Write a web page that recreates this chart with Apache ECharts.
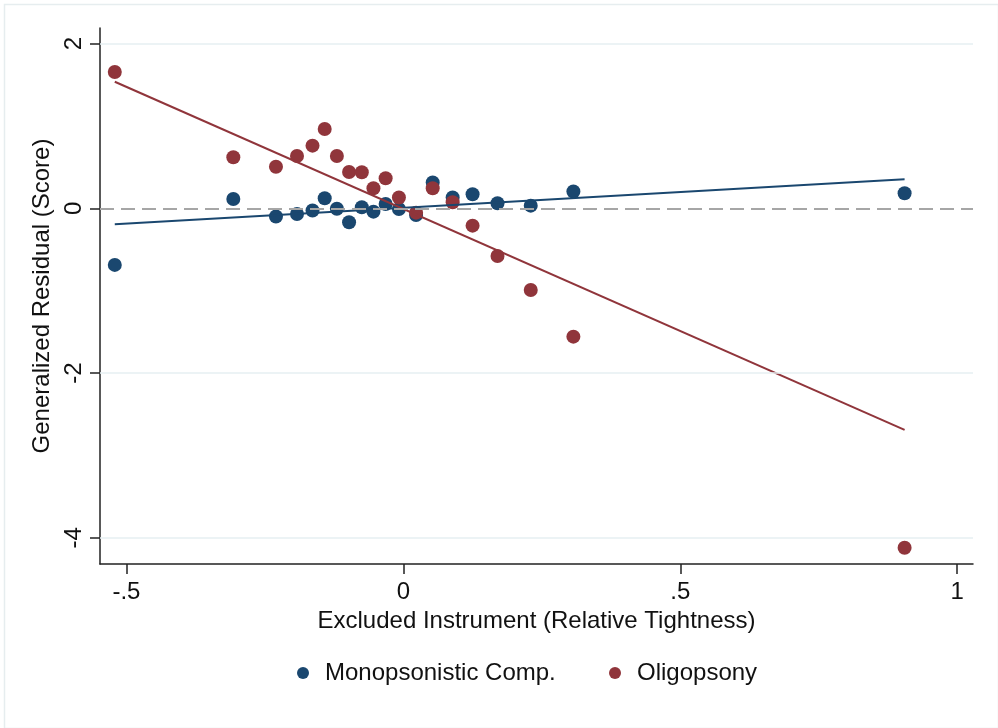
<!DOCTYPE html>
<html>
<head>
<meta charset="utf-8">
<script src="https://cdn.jsdelivr.net/npm/echarts@6/dist/echarts.min.js"></script>
<style>
html,body{margin:0;padding:0;background:#fff;}
#chart{width:998px;height:728px;}
</style>
</head>
<body>
<div id="chart"></div>
<script>
// Excluded instrument (x) values, shared by both groups
var xValues = [-0.521, -0.307, -0.230, -0.192, -0.164, -0.142, -0.120, -0.098, -0.075, -0.054,
               -0.032, -0.008, 0.023, 0.053, 0.089, 0.125, 0.170, 0.230, 0.307, 0.905];
// Generalized residuals
var monoY = [-0.687, 0.113, -0.100, -0.069, -0.027, 0.121, -0.005, -0.170, 0.012, -0.041,
             0.052, -0.008, -0.081, 0.313, 0.131, 0.170, 0.061, 0.032, 0.204, 0.182];
var oligoY = [1.654, 0.619, 0.505, 0.635, 0.760, 0.962, 0.635, 0.441, 0.437, 0.243,
              0.364, 0.131, -0.053, 0.243, 0.073, -0.211, -0.579, -0.991, -1.558, -4.119];
// Linear fit endpoints
var monoFitX = [-0.521, 0.905];
var monoFitY = [-0.194, 0.352];
var oligoFitX = [-0.521, 0.905];
var oligoFitY = [1.536, -2.690];
// Ticks
var xTicks = [-0.5, 0, 0.5, 1];
var xTickLabels = ['-.5', '0', '.5', '1'];
var yTicks = [-4, -2, 0, 2];
var yTickLabels = ['-4', '-2', '0', '2'];
var gridLineValues = [-4, -2, 2];
var seriesNames = ['Monopsonistic Comp.', 'Oligopsony'];

var BLUE = '#1a476f', RED = '#90353b';
var FONT = 'Liberation Sans, Arial, Helvetica, sans-serif';

function pairs(xs, ys) { return xs.map(function (x, i) { return [x, ys[i]]; }); }

var chart = echarts.init(document.getElementById('chart'), null, {renderer: 'canvas'});
chart.setOption({
  backgroundColor: '#ffffff',
  animation: false,
  textStyle: {fontFamily: FONT},
  graphic: [{
    type: 'rect', left: 2, top: 2, silent: true,
    shape: {width: 994, height: 724},
    style: {fill: 'none', stroke: '#e6edef', lineWidth: 1.5}
  }],
  grid: {left: 100, right: 25, top: 28, bottom: 164, containLabel: false},
  legend: [{
    data: [seriesNames[0]], left: 292, top: 656, itemWidth: 12, itemHeight: 12,
    icon: 'circle', textStyle: {fontSize: 24, color: '#111', fontFamily: FONT, padding: [0, 0, 0, 11]}
  }, {
    data: [seriesNames[1]], left: 604, top: 656, itemWidth: 12, itemHeight: 12,
    icon: 'circle', textStyle: {fontSize: 24, color: '#111', fontFamily: FONT, padding: [0, 0, 0, 11]}
  }],
  xAxis: {
    type: 'value', min: -0.5477, max: 1.0285,
    name: 'Excluded Instrument (Relative Tightness)', nameLocation: 'middle', nameGap: 45,
    nameTextStyle: {fontSize: 24, color: '#111', fontFamily: FONT},
    axisLine: {show: true, onZero: false, lineStyle: {color: '#222', width: 1.5}},
    axisTick: {show: true, length: 10, customValues: xTicks, lineStyle: {color: '#222', width: 1.5}},
    axisLabel: {
      customValues: xTicks, fontSize: 24, color: '#111', margin: 16, fontFamily: FONT,
      formatter: function (v) { var i = xTicks.indexOf(v); return i >= 0 ? xTickLabels[i] : ''; }
    },
    splitLine: {show: false}
  },
  yAxis: {
    type: 'value', min: -4.317, max: 2.188,
    name: 'Generalized Residual (Score)', nameLocation: 'middle', nameGap: 45, nameRotate: 90,
    nameTextStyle: {fontSize: 24, color: '#111', fontFamily: FONT},
    axisLine: {show: true, onZero: false, lineStyle: {color: '#222', width: 1.5}},
    axisTick: {show: true, length: 10, customValues: yTicks, lineStyle: {color: '#222', width: 1.5}},
    axisLabel: {
      customValues: yTicks, fontSize: 24, color: '#111', margin: 14, rotate: 90, fontFamily: FONT,
      formatter: function (v) { var i = yTicks.indexOf(v); return i >= 0 ? yTickLabels[i] : ''; }
    },
    splitLine: {show: false}
  },
  series: [{
    name: 'refs', type: 'line', data: [], z: 1, silent: true,
    markLine: {
      silent: true, symbol: 'none', label: {show: false}, animation: false,
      data: gridLineValues.map(function (v) {
        return {yAxis: v, lineStyle: {color: '#e6eff2', width: 1.5, type: 'solid'}};
      }).concat([{yAxis: 0, lineStyle: {color: '#a6a6a6', width: 2, type: [14, 7]}}])
    }
  }, {
    name: seriesNames[0], type: 'scatter', symbol: 'circle', symbolSize: 14, z: 3,
    itemStyle: {color: BLUE, opacity: 1},
    data: pairs(xValues, monoY)
  }, {
    name: seriesNames[1], type: 'scatter', symbol: 'circle', symbolSize: 14, z: 3,
    itemStyle: {color: RED, opacity: 1},
    data: pairs(xValues, oligoY)
  }, {
    name: 'fit1', type: 'line', showSymbol: false, symbol: 'none', z: 4,
    lineStyle: {color: BLUE, width: 2}, itemStyle: {color: BLUE},
    data: pairs(monoFitX, monoFitY)
  }, {
    name: 'fit2', type: 'line', showSymbol: false, symbol: 'none', z: 4,
    lineStyle: {color: RED, width: 2}, itemStyle: {color: RED},
    data: pairs(oligoFitX, oligoFitY)
  }]
});
</script>
</body>
</html>
